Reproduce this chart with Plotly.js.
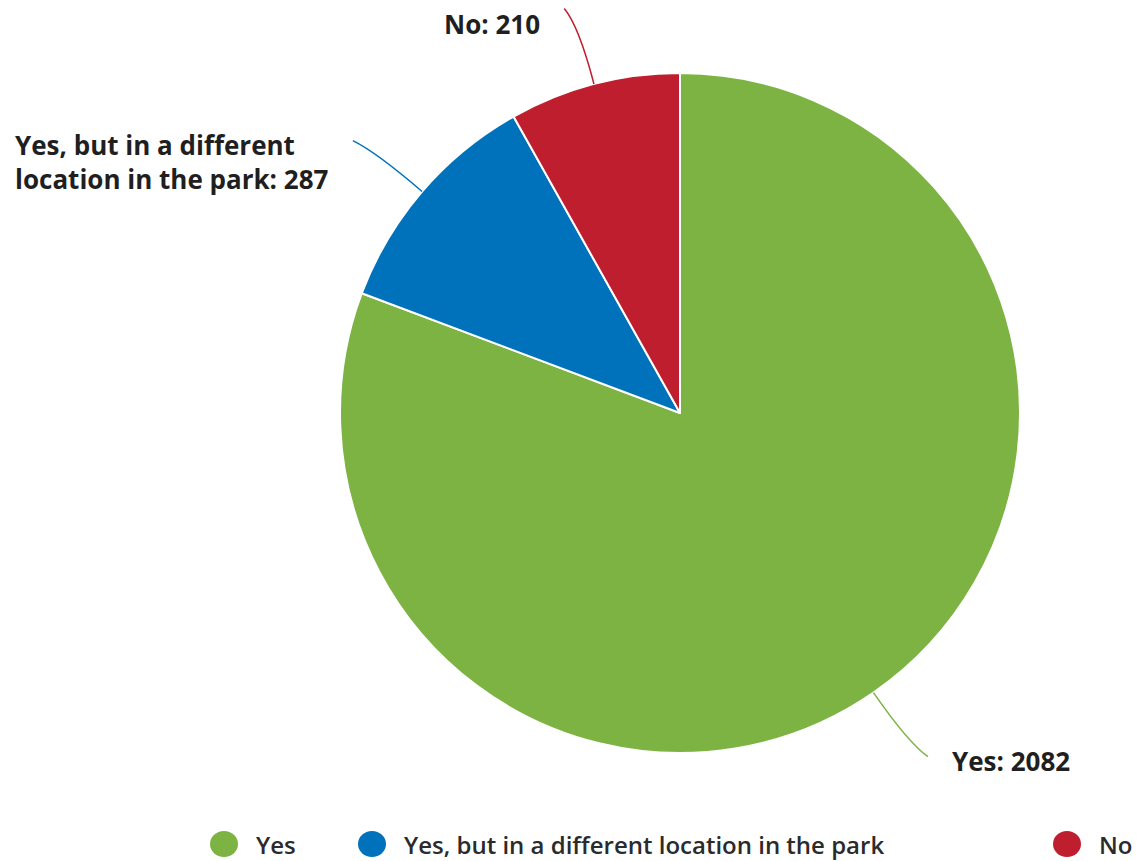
<!DOCTYPE html>
<html>
<head>
<meta charset="utf-8">
<script src="https://cdn.plot.ly/plotly-3.0.1.min.js"></script>
<style>
  html, body { margin: 0; padding: 0; background: #ffffff; }
  #chart { width: 1142px; height: 861px; }
</style>
</head>
<body>
<div id="chart"></div>
<script>
// ---- data ----
const categories = ["Yes", "Yes, but in a different location in the park", "No"];
const dataLabels = ["Yes", "Yes, but in a different<br>location in the park", "No"];
const values = [2082, 287, 210];
const colors = ["#7db343", "#0072bc", "#be1e2d"];

// ---- geometry (layout only) ----
const W = 1142, H = 861;
const cx = 680, cy = 413, R = 340;
const px = x => x / W;
const py = y => 1 - y / H;

const pie = {
  type: "pie",
  labels: categories,
  values: values,
  sort: false,
  direction: "clockwise",
  rotation: 0,
  textinfo: "none",
  hoverinfo: "label+value",
  marker: { colors: colors, line: { color: "#ffffff", width: 2 } },
  domain: { x: [px(cx - R), px(cx + R)], y: [py(cy + R), py(cy - R)] },
  showlegend: false
};

// leader lines and labels computed from the data
const total = values.reduce((a, b) => a + b, 0);
const shapes = [];
const annotations = [];
let cum = 0;
values.forEach((v, i) => {
  const mid = (cum + v / 2) / total * 2 * Math.PI;
  cum += v;
  const s = Math.sin(mid), c = Math.cos(mid);
  const dir = s >= 0 ? 1 : -1;
  const p0 = [cx + R * s, cy - R * c];
  const ctl = [cx + (R + 60) * s, cy - (R + 60) * c];
  const end = [cx + (R + 78) * s + dir * 10, cy - (R + 78) * c];
  shapes.push({
    type: "path", xref: "paper", yref: "paper",
    path: `M ${px(p0[0])} ${py(p0[1])} Q ${px(ctl[0])} ${py(ctl[1])} ${px(end[0])} ${py(end[1])}`,
    line: { color: colors[i], width: 1.5 }
  });
  const top = Math.max(end[1] - 16, 4);
  annotations.push({
    xref: "paper", yref: "paper",
    x: px(end[0] + dir * 22), y: py(top),
    xanchor: dir > 0 ? "left" : "right", yanchor: "top",
    align: "left", showarrow: false,
    text: `${dataLabels[i]}: ${values[i]}`,
    font: { family: "Open Sans, sans-serif", size: 26, color: "#1f1f1f", weight: 700 }
  });
});

// legend (circle markers, horizontal row at the bottom)
const legendX = [224, 372, 1067];
const legendY = 844;
categories.forEach((name, i) => {
  shapes.push({
    type: "circle", xref: "paper", yref: "paper",
    x0: px(legendX[i] - 14), x1: px(legendX[i] + 14),
    y0: py(legendY + 13), y1: py(legendY - 13),
    fillcolor: colors[i], line: { width: 0 }
  });
  annotations.push({
    xref: "paper", yref: "paper",
    x: px(legendX[i] + 30), y: py(legendY),
    xanchor: "left", yanchor: "middle", showarrow: false,
    text: name,
    font: { family: "Open Sans, sans-serif", size: 24, color: "#2b2b2b", weight: 600 }
  });
});

const layout = {
  width: W, height: H,
  margin: { l: 0, r: 0, t: 0, b: 0 },
  paper_bgcolor: "#ffffff",
  showlegend: false,
  shapes: shapes,
  annotations: annotations
};

Plotly.newPlot("chart", [pie], layout, { displayModeBar: false, staticPlot: true });
</script>
</body>
</html>
